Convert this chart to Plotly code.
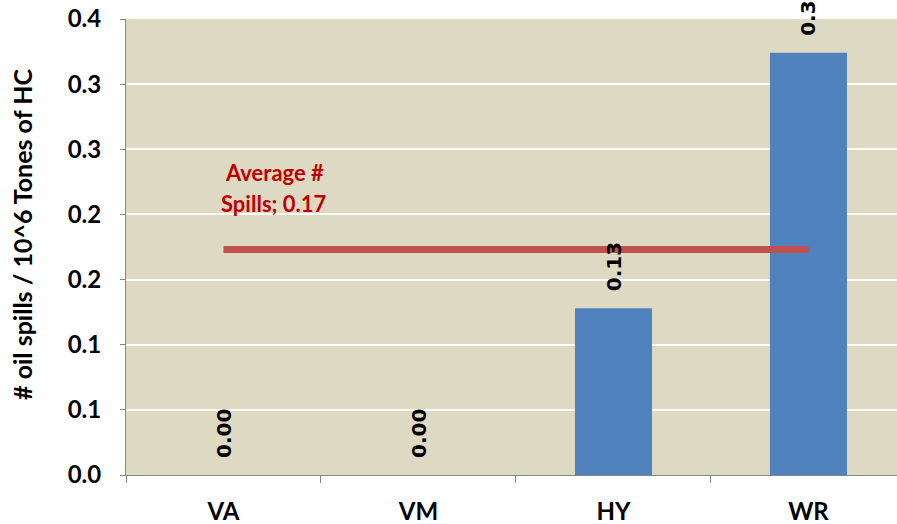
import plotly.graph_objects as go

categories = ["VA", "VM", "HY", "WR"]
spill_rates = [0.0, 0.0, 0.128, 0.324]
bar_labels = ["0.00", "0.00", "0.13", "0.3"]
average_rate = 0.173
average_label_lines = ["Average #", "Spills; 0.17"]
y_tick_values = [0.0, 0.05, 0.10, 0.15, 0.20, 0.25, 0.30, 0.35]
y_tick_labels = ["0.0", "0.1", "0.1", "0.2", "0.2", "0.3", "0.3", "0.4"]
y_title = "# oil spills / 10^6 Tones of HC"

FONT = "Lato"
BG = "#DDD9C3"
BAR = "#4F81BD"
LINE = "#C0504D"
LABEL_RED = "#C00000"

fig = go.Figure()

fig.add_trace(go.Bar(
    x=categories, y=spill_rates,
    marker=dict(color=BAR, line=dict(width=0)),
    hoverinfo="x+y", showlegend=False,
))

fig.add_trace(go.Scatter(
    x=categories, y=[average_rate] * len(categories),
    mode="lines", line=dict(color=LINE, width=7),
    showlegend=False, hoverinfo="y",
))

annotations = []
for c, v, t in zip(categories, spill_rates, bar_labels):
    annotations.append(dict(
        x=c, y=v, xref="x", yref="y", text=t, textangle=-90,
        showarrow=False, xanchor="center", yanchor="bottom", yshift=15,
        font=dict(family="DejaVu Sans", size=20, color="black", weight="bold"),
    ))

for i, line in enumerate(average_label_lines):
    annotations.append(dict(
        x=0.26, y=average_rate, xref="x", yref="y", text=line,
        showarrow=False, xanchor="center", yanchor="middle",
        yshift=77 - 31 * i,
        font=dict(family=FONT, size=22, color=LABEL_RED, weight="bold"),
    ))

annotations.append(dict(
    x=-0.134, y=0.528, xref="paper", yref="paper", text=y_title, textangle=-90,
    showarrow=False, xanchor="center", yanchor="middle",
    font=dict(family=FONT, size=25, color="black", weight="bold"),
))

fig.update_layout(
    width=897, height=524,
    margin=dict(l=126, r=0, t=19, b=49),
    paper_bgcolor="white", plot_bgcolor=BG,
    bargap=0.605,
    annotations=annotations,
    font=dict(family=FONT, color="black"),
    xaxis=dict(
        type="category", range=[-0.5, 3.454],
        showline=True, linecolor="#868686", linewidth=1,
        ticks="outside", tickson="boundaries", ticklen=7, tickcolor="#868686",
        showgrid=False, zeroline=False,
        tickfont=dict(family=FONT, size=24, color="black", weight="bold"),
        ticklabelstandoff=15,
    ),
    yaxis=dict(
        range=[0, 0.35], tickvals=y_tick_values, ticktext=y_tick_labels,
        showline=True, linecolor="#868686", linewidth=1,
        ticks="outside", ticklen=5, tickcolor="#868686",
        showgrid=True, gridcolor="white", gridwidth=2,
        zeroline=False,
        tickfont=dict(family=FONT, size=24, color="black", weight="bold"),
        ticklabelstandoff=14,
    ),
)

fig.write_html("out.html")
